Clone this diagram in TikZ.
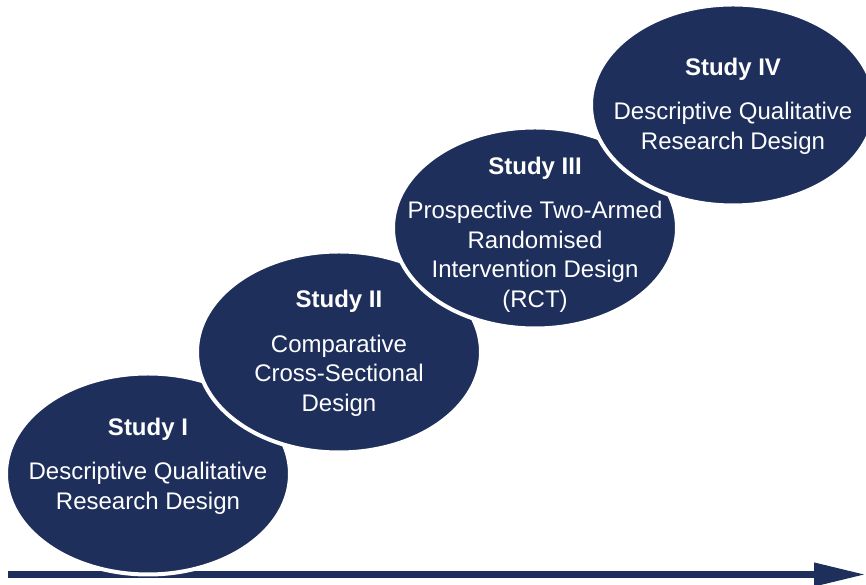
\documentclass[tikz,border=0pt]{standalone}
\usepackage{fontspec}
\setmainfont{Liberation Sans}
\usetikzlibrary{shapes.geometric, arrows.meta}
\definecolor{studyblue}{RGB}{30,47,92}

\begin{document}
\begin{tikzpicture}[x=1pt, y=1pt,
    study/.style={ellipse, draw=white, line width=4pt, fill=studyblue, minimum width=284pt, minimum height=201pt, inner sep=0pt},
    studytext/.style={text=white, align=center, font=\fontsize{24}{29.5}\selectfont}]
    \clip (0,0) rectangle (866,585);
    % time axis
    \coordinate (axisstart) at (8,10.5);
    \coordinate (axisend) at (866,10.5);
    \draw[studyblue, line width=7pt, -{Triangle[length=52pt, width=22pt]}] (axisstart) -- (axisend);
    % the four studies, each one a step up
    \node[study] (one) at (148,111) {};
    \node[studytext] (onetext) at ([yshift=8pt]one.center) {\textbf{Study I}\\[15pt]Descriptive Qualitative\\Research Design};
    \node[study] (two) at (339,233) {};
    \node[studytext] (twotext) at ([yshift=-1.5pt]two.center) {\textbf{Study II}\\[15pt]Comparative\\Cross-Sectional\\Design};
    \node[study] (three) at (535,357) {};
    \node[studytext] (threetext) at ([yshift=-6.5pt]three.center) {\textbf{Study III}\\[15pt]Prospective Two-Armed\\Randomised\\Intervention Design\\(RCT)};
    \node[study] (four) at (733,480) {};
    \node[studytext] (fourtext) at ([yshift=-1pt]four.center) {\textbf{Study IV}\\[15pt]Descriptive Qualitative\\Research Design};
\end{tikzpicture}
\end{document}
